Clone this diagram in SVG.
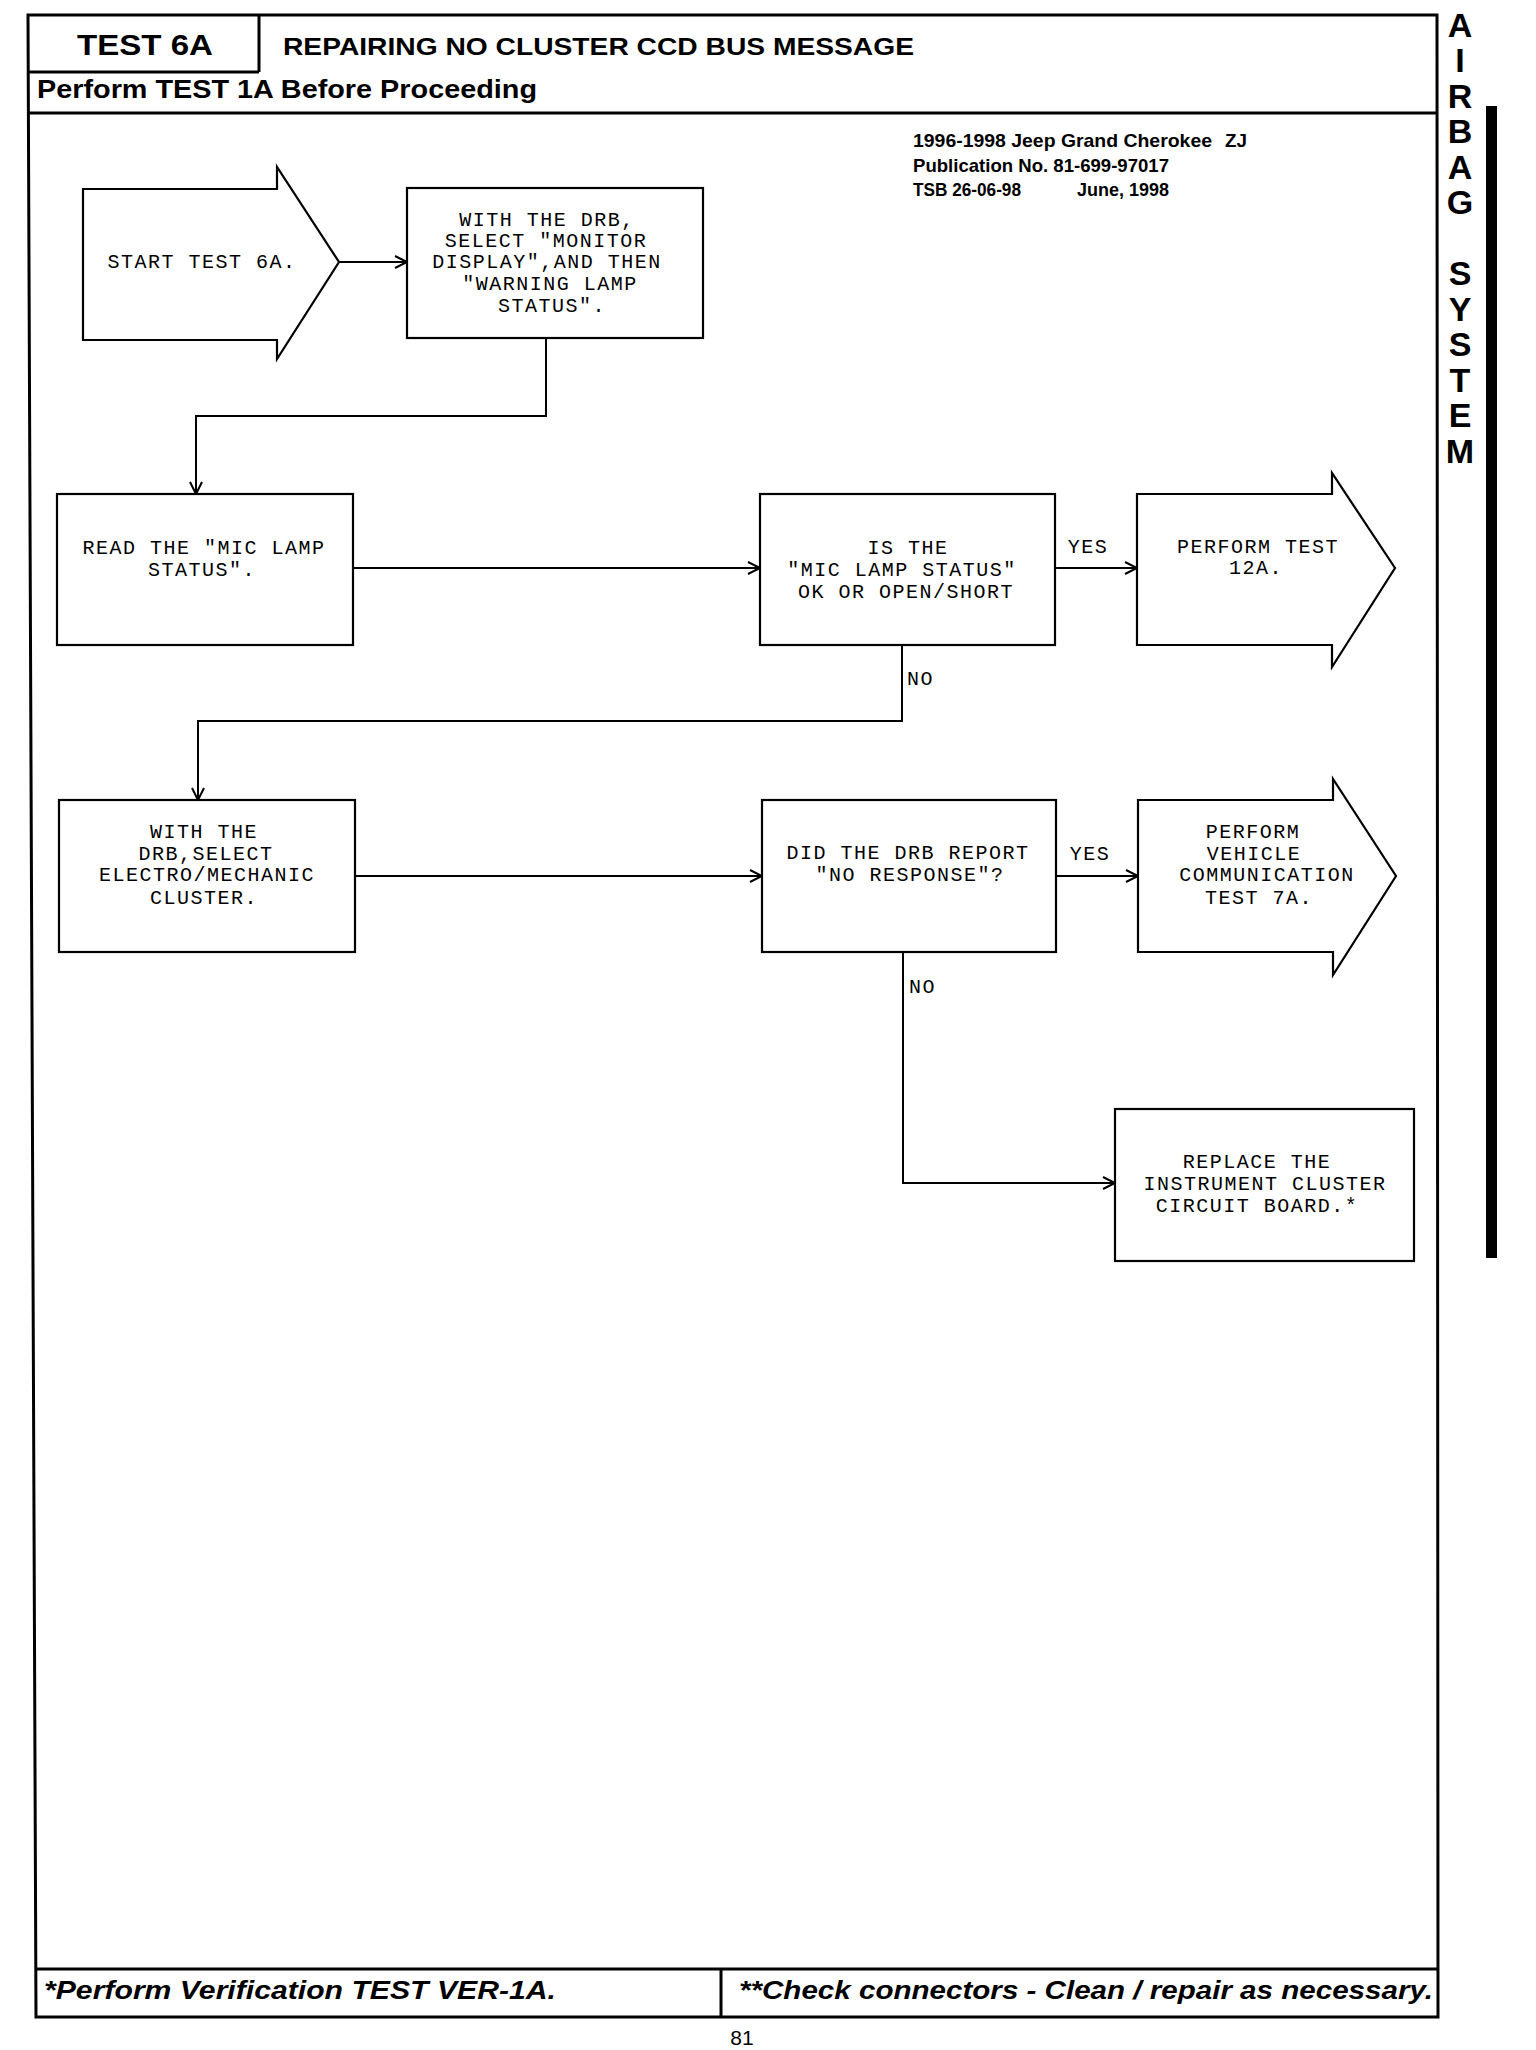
<svg xmlns="http://www.w3.org/2000/svg" width="1536" height="2050" viewBox="0 0 1536 2050">
<defs>
<style>
.frame{fill:none;stroke:#000;stroke-width:3}
.box{fill:#fff;stroke:#000;stroke-width:2.2}
.conn{fill:none;stroke:#000;stroke-width:2}
.mono{font-family:"Liberation Mono","DejaVu Sans Mono",monospace;font-size:20px;letter-spacing:1.5px;fill:#000;text-anchor:middle}
.lbl{font-family:"Liberation Mono","DejaVu Sans Mono",monospace;font-size:20px;letter-spacing:1.5px;fill:#000}
.hb{font-family:"Liberation Sans",Arial,sans-serif;font-weight:bold;fill:#000}
.side{font-family:"Liberation Sans",Arial,sans-serif;font-weight:bold;font-size:34px;fill:#000;text-anchor:middle}
.foot{font-family:"Liberation Sans",Arial,sans-serif;font-weight:bold;font-style:italic;font-size:26px;fill:#000}
</style>
<marker id="arr" markerUnits="userSpaceOnUse" markerWidth="16" markerHeight="16" refX="13" refY="7" orient="auto">
<path d="M1,1 L13,7 L1,13" fill="none" stroke="#000" stroke-width="2"/>
</marker>
</defs>
<rect width="1536" height="2050" fill="#fff"/>

<g id="page-frame">
<path class="frame" d="M28,15 L1437,15 L1438,2017 L36,2017 Z"/>
<line class="frame" x1="259" y1="15" x2="259" y2="72"/>
<line class="frame" x1="28" y1="72" x2="259" y2="72"/>
<line class="frame" x1="29" y1="113" x2="1437" y2="113"/>
<line class="frame" x1="36" y1="1969" x2="1438" y2="1969"/>
<line class="frame" x1="721" y1="1969" x2="721" y2="2017"/>
<rect x="1486" y="106" width="11" height="1152" fill="#000"/>
</g>

<g id="header">
<text class="hb" x="77" y="55" font-size="30" textLength="136" lengthAdjust="spacingAndGlyphs">TEST 6A</text>
<text class="hb" x="283" y="55" font-size="24" textLength="631" lengthAdjust="spacingAndGlyphs">REPAIRING NO CLUSTER CCD BUS MESSAGE</text>
<text class="hb" x="37" y="98" font-size="25" textLength="500" lengthAdjust="spacingAndGlyphs">Perform TEST 1A Before Proceeding</text>
</g>

<g id="pub-info">
<text class="hb" x="913" y="147" font-size="19" textLength="299" lengthAdjust="spacingAndGlyphs">1996-1998 Jeep Grand Cherokee</text>
<text class="hb" x="1225" y="147" font-size="19" textLength="22" lengthAdjust="spacingAndGlyphs">ZJ</text>
<text class="hb" x="913" y="172" font-size="19" textLength="256" lengthAdjust="spacingAndGlyphs">Publication No. 81-699-97017</text>
<text class="hb" x="913" y="196" font-size="19" textLength="108" lengthAdjust="spacingAndGlyphs">TSB 26-06-98</text>
<text class="hb" x="1077" y="196" font-size="19" textLength="92" lengthAdjust="spacingAndGlyphs">June, 1998</text>
</g>

<g id="side-title">
<text class="side" x="1460" y="37">A</text>
<text class="side" x="1460" y="72">I</text>
<text class="side" x="1460" y="108">R</text>
<text class="side" x="1460" y="143">B</text>
<text class="side" x="1460" y="179">A</text>
<text class="side" x="1460" y="214">G</text>
<text class="side" x="1460" y="285">S</text>
<text class="side" x="1460" y="321">Y</text>
<text class="side" x="1460" y="356">S</text>
<text class="side" x="1460" y="392">T</text>
<text class="side" x="1460" y="427">E</text>
<text class="side" x="1460" y="463">M</text>
</g>

<g id="connectors">
<line class="conn" x1="339" y1="262" x2="407" y2="262" marker-end="url(#arr)"/>
<polyline class="conn" points="546,338 546,416 196,416 196,494" marker-end="url(#arr)"/>
<line class="conn" x1="353" y1="568" x2="760" y2="568" marker-end="url(#arr)"/>
<line class="conn" x1="1055" y1="568" x2="1137" y2="568" marker-end="url(#arr)"/>
<polyline class="conn" points="902,645 902,721 198,721 198,800" marker-end="url(#arr)"/>
<line class="conn" x1="355" y1="876" x2="762" y2="876" marker-end="url(#arr)"/>
<line class="conn" x1="1056" y1="876" x2="1138" y2="876" marker-end="url(#arr)"/>
<polyline class="conn" points="903,952 903,1183 1115,1183" marker-end="url(#arr)"/>
<text class="lbl" x="1088" y="553" text-anchor="middle">YES</text>
<text class="lbl" x="907" y="685">NO</text>
<text class="lbl" x="1090" y="860" text-anchor="middle">YES</text>
<text class="lbl" x="909" y="993">NO</text>
</g>

<g id="start">
<polygon class="box" points="83,189 277,189 277,167 339,262 277,359 277,340 83,340"/>
<text class="mono" x="202" y="268">START TEST 6A.</text>
</g>

<g id="select-monitor">
<rect class="box" x="407" y="188" width="296" height="150"/>
<text class="mono" x="547" y="226">WITH THE DRB,</text>
<text class="mono" x="546" y="247">SELECT "MONITOR</text>
<text class="mono" x="547" y="268">DISPLAY",AND THEN</text>
<text class="mono" x="550" y="290">"WARNING LAMP</text>
<text class="mono" x="552" y="312">STATUS".</text>
</g>

<g id="read-mic">
<rect class="box" x="57" y="494" width="296" height="151"/>
<text class="mono" x="204" y="554">READ THE "MIC LAMP</text>
<text class="mono" x="202" y="576">STATUS".</text>
</g>

<g id="is-mic-ok">
<rect class="box" x="760" y="494" width="295" height="151"/>
<text class="mono" x="908" y="554">IS THE</text>
<text class="mono" x="902" y="576">"MIC LAMP STATUS"</text>
<text class="mono" x="906" y="598">OK OR OPEN/SHORT</text>
</g>

<g id="perform-12a">
<polygon class="box" points="1137,494 1332,494 1332,473 1395,568 1332,667 1332,645 1137,645"/>
<text class="mono" x="1258" y="553">PERFORM TEST</text>
<text class="mono" x="1256" y="574">12A.</text>
</g>

<g id="select-cluster">
<rect class="box" x="59" y="800" width="296" height="152"/>
<text class="mono" x="204" y="838">WITH THE</text>
<text class="mono" x="206" y="860">DRB,SELECT</text>
<text class="mono" x="207" y="881">ELECTRO/MECHANIC</text>
<text class="mono" x="204" y="904">CLUSTER.</text>
</g>

<g id="no-response">
<rect class="box" x="762" y="800" width="294" height="152"/>
<text class="mono" x="908" y="859">DID THE DRB REPORT</text>
<text class="mono" x="910" y="881">"NO RESPONSE"?</text>
</g>

<g id="perform-7a">
<polygon class="box" points="1138,800 1333,800 1333,779 1396,876 1333,975 1333,952 1138,952"/>
<text class="mono" x="1253" y="838">PERFORM</text>
<text class="mono" x="1254" y="860">VEHICLE</text>
<text class="mono" x="1267" y="881">COMMUNICATION</text>
<text class="mono" x="1259" y="904">TEST 7A.</text>
</g>

<g id="replace-board">
<rect class="box" x="1115" y="1109" width="299" height="152"/>
<text class="mono" x="1257" y="1168">REPLACE THE</text>
<text class="mono" x="1265" y="1190">INSTRUMENT CLUSTER</text>
<text class="mono" x="1257" y="1212">CIRCUIT BOARD.*</text>
</g>

<g id="footer">
<text class="foot" x="44" y="1999" textLength="512" lengthAdjust="spacingAndGlyphs">*Perform Verification TEST VER-1A.</text>
<text class="foot" x="739" y="1999" textLength="694" lengthAdjust="spacingAndGlyphs">**Check connectors - Clean / repair as necessary.</text>
<text x="742" y="2045" font-family="Liberation Sans, Arial, sans-serif" font-size="21" text-anchor="middle" fill="#000">81</text>
</g>
</svg>
